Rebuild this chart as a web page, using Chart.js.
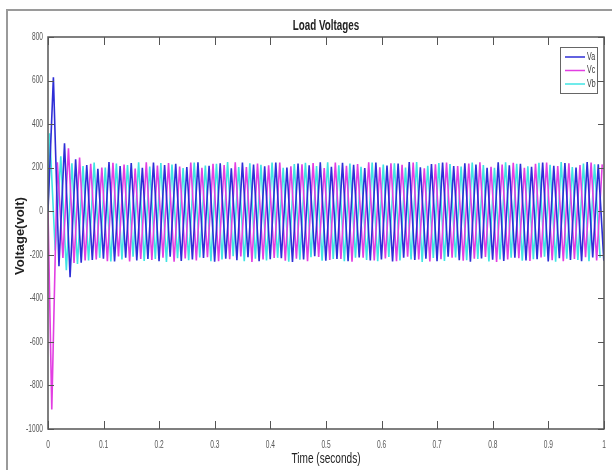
<!DOCTYPE html>
<html>
<head>
<meta charset="utf-8">
<script src="https://cdn.jsdelivr.net/npm/chart.js@4"></script>
<style>
  html, body { margin: 0; padding: 0; background: #fff; }
  canvas { display: block; }
</style>
</head>
<body>
<canvas id="loadChart" width="612" height="470"></canvas>
<script>
// values: alternating peaks / troughs, one every half cycle (50 Hz)
const seriesNames = ['Va', 'Vc', 'Vb'];
const seriesColors = ['#2e2ed6', '#e23ee2', '#40e4e4'];
const seriesStart = [0.0097, 0.0068, 0.003]; // time of first vertex (s)
const vertexStep = 0.01;

const va = [
  615, -253, 312, -303, 238, -236, 212, -224, 195, -218,
  226, -231, 208, -214, 221, -226, 199, -219, 224, -230,
  212, -209, 218, -228, 203, -221, 225, -215, 209, -232,
  220, -218, 197, -225, 223, -211, 214, -229, 206, -220,
  224, -216, 201, -233, 219, -222, 211, -207, 225, -227,
  204, -219, 222, -230, 213, -212, 198, -226, 224, -221,
  210, -231, 219, -214, 226, -224, 202, -218, 217, -229,
  223, -209, 207, -225, 220, -232, 214, -217, 199, -223,
  225, -228, 211, -213, 218, -226, 204, -220, 223, -231,
  209, -216, 221, -224, 200, -229, 226, -212, 215, -227
];
const vc = [
  -910, 225, -215, 289, -238, 246, -226, 218, -221, 200,
  -229, 222, -208, 214, -231, 196, -219, 225, -224, 210,
  -214, 221, -232, 205, -217, 224, -226, 199, -211, 218,
  -229, 212, -220, 225, -208, 203, -233, 219, -222, 211,
  -215, 224, -227, 206, -218, 215, -230, 221, -210, 198,
  -224, 223, -219, 209, -232, 217, -213, 225, -226, 202,
  -217, 220, -229, 213, -209, 224, -222, 197, -231, 216,
  -220, 223, -214, 208, -227, 219, -218, 225, -210, 204,
  -233, 214, -221, 222, -216, 199, -228, 218, -212, 224,
  -225, 207, -230, 220, -219, 212, -211, 223, -226, 215
];
const vb = [
  358, -180, 252, -271, 220, -242, 208, -226, 223, -214,
  201, -231, 219, -222, 212, -209, 225, -228, 205, -219,
  221, -233, 214, -216, 198, -225, 224, -212, 210, -229,
  218, -221, 226, -207, 203, -230, 220, -218, 213, -226,
  224, -214, 199, -232, 217, -223, 222, -211, 208, -227,
  225, -219, 211, -229, 219, -213, 204, -224, 223, -230,
  214, -210, 220, -226, 200, -221, 226, -233, 209, -215,
  221, -228, 217, -212, 205, -225, 224, -219, 212, -231,
  199, -222, 225, -214, 218, -227, 206, -220, 222, -209,
  213, -232, 226, -218, 203, -224, 219, -229, 215, -213
];

const xTicks = [0, 0.1, 0.2, 0.3, 0.4, 0.5, 0.6, 0.7, 0.8, 0.9, 1];
const xTickLabels = ['0', '0.1', '0.2', '0.3', '0.4', '0.5', '0.6', '0.7', '0.8', '0.9', '1'];
const yTicks = [800, 600, 400, 200, 0, -200, -400, -600, -800, -1000];
const yTickLabels = ['800', '600', '400', '200', '0', '-200', '-400', '-600', '-800', '-1000'];

const FONT = "'Liberation Sans', Arial, sans-serif";

function toPoints(start, values) {
  const pts = [{ x: 0, y: 0 }];
  values.forEach(function(v, i) {
    pts.push({ x: start + i * vertexStep, y: v });
  });
  return pts;
}

const allValues = [va, vc, vb];

// squeezed text, the reference uses a narrow face
function narrowText(c, text, x, y, align, sx) {
  c.save();
  c.translate(x, y);
  c.scale(sx, 1);
  c.textAlign = align;
  c.fillText(text, 0, 0);
  c.restore();
}

// axes box, inward ticks, labels, title and legend in the old matlab look
const matlabFrame = {
  id: 'matlabFrame',
  afterDraw: function(chart) {
    const c = chart.ctx;
    const a = chart.chartArea;
    const xs = chart.scales.x;
    const ys = chart.scales.y;
    c.save();

    // outer figure frame
    c.strokeStyle = '#9a9a9a';
    c.lineWidth = 2;
    c.beginPath();
    c.moveTo(7, 470);
    c.lineTo(7, 10);
    c.lineTo(612, 10);
    c.stroke();

    // axes box
    c.strokeStyle = '#555';
    c.lineWidth = 1.5;
    c.strokeRect(a.left, a.top, a.right - a.left, a.bottom - a.top);

    // ticks
    c.lineWidth = 1;
    c.beginPath();
    xTicks.forEach(function(t) {
      const px = Math.round(xs.getPixelForValue(t)) + 0.5;
      c.moveTo(px, a.bottom); c.lineTo(px, a.bottom - 8);
      c.moveTo(px, a.top); c.lineTo(px, a.top + 8);
    });
    yTicks.forEach(function(t) {
      const py = Math.round(ys.getPixelForValue(t)) + 0.5;
      c.moveTo(a.left, py); c.lineTo(a.left + 6, py);
      c.moveTo(a.right, py); c.lineTo(a.right - 6, py);
    });
    c.stroke();

    // tick labels
    c.fillStyle = '#555';
    c.font = '10px ' + FONT;
    c.textBaseline = 'middle';
    xTicks.forEach(function(t, i) {
      narrowText(c, xTickLabels[i], xs.getPixelForValue(t), a.bottom + 16, 'center', 0.66);
    });
    yTicks.forEach(function(t, i) {
      narrowText(c, yTickLabels[i], a.left - 5, ys.getPixelForValue(t), 'right', 0.66);
    });

    // axis titles
    c.fillStyle = '#222';
    c.font = '14px ' + FONT;
    narrowText(c, 'Time (seconds)', (a.left + a.right) / 2, 459, 'center', 0.72);
    c.font = 'bold 14px ' + FONT;
    narrowText(c, 'Load Voltages', (a.left + a.right) / 2, 26, 'center', 0.7);
    c.font = 'bold 13px ' + FONT;
    c.save();
    c.translate(20, 236);
    c.rotate(-Math.PI / 2);
    c.textAlign = 'center';
    c.fillText('Voltage(volt)', 0, 0);
    c.restore();

    // legend
    const lx = 560, ly = 47, lw = 37, lh = 46;
    c.fillStyle = '#fff';
    c.fillRect(lx, ly, lw, lh);
    c.strokeStyle = '#666';
    c.lineWidth = 1;
    c.strokeRect(lx + 0.5, ly + 0.5, lw, lh);
    c.font = '10px ' + FONT;
    chart.data.datasets.forEach(function(ds, i) {
      const ry = ly + 10 + i * 13.5;
      c.strokeStyle = ds.borderColor;
      c.lineWidth = 1.5;
      c.beginPath();
      c.moveTo(lx + 5, ry); c.lineTo(lx + 25, ry);
      c.stroke();
      c.fillStyle = '#333';
      narrowText(c, ds.label, lx + 27, ry, 'left', 0.7);
    });

    c.restore();
  }
};

new Chart(document.getElementById('loadChart').getContext('2d'), {
  type: 'line',
  data: {
    datasets: seriesNames.map(function(name, i) {
      return {
        label: name,
        data: toPoints(seriesStart[i], allValues[i]),
        borderColor: seriesColors[i],
        borderWidth: 1.6,
        pointRadius: 0,
        tension: 0,
        fill: false
      };
    })
  },
  options: {
    responsive: false,
    animation: false,
    devicePixelRatio: 1,
    parsing: false,
    layout: { padding: { left: 48, top: 37, right: 8, bottom: 41 } },
    scales: {
      x: { type: 'linear', min: 0, max: 1, display: false },
      y: { type: 'linear', min: -1000, max: 800, display: false }
    },
    plugins: {
      legend: { display: false },
      title: { display: false },
      tooltip: { enabled: false }
    }
  },
  plugins: [matlabFrame]
});
</script>
</body>
</html>
